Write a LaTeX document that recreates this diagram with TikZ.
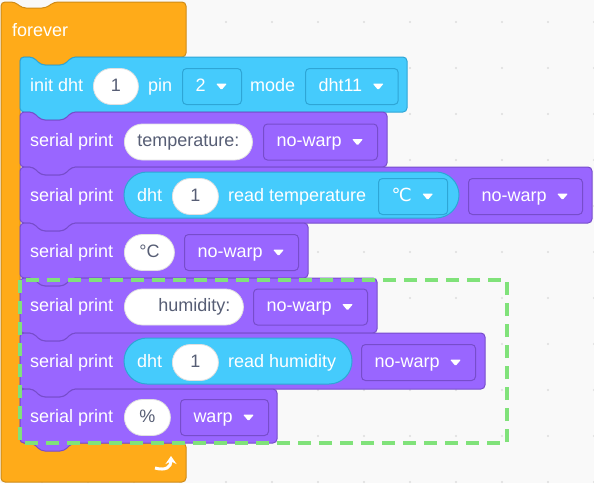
\documentclass[tikz,border=0pt]{standalone}
\usepackage{fontspec}
\setmainfont{Liberation Sans}
\newfontfamily\symfont{DejaVu Sans}
\usetikzlibrary{arrows.meta, calc}

\definecolor{forevercol}{HTML}{FFAB19}
\definecolor{foreverline}{HTML}{CF8B17}
\definecolor{dhtcol}{HTML}{45CBFC}
\definecolor{dhtline}{HTML}{2EA6D6}
\definecolor{printcol}{HTML}{9966FF}
\definecolor{printline}{HTML}{774DCB}
\definecolor{valtext}{HTML}{575E75}
\definecolor{markgreen}{HTML}{80E27A}
\definecolor{canvas}{HTML}{F9F9F9}
\definecolor{griddot}{HTML}{DDDDDD}

\newcommand{\blockfont}{\fontsize{18}{21}\selectfont}
% stack block: left, top, right, bottom, fill, line
\newcommand{\stackblock}[6]{%
  \draw[block, fill=#5, draw=#6] (#1,#2) -- ({#1+13},#2) -- ({#1+21},{#2+8}) -- ({#1+44},{#2+8}) -- ({#1+52},#2) -- (#3,#2)
    -- (#3,#4) -- ({#1+52},#4) -- ({#1+44},{#4+8}) -- ({#1+21},{#4+8}) -- ({#1+13},#4) -- (#1,#4) -- cycle;}
% small arrow of a dropdown
\newcommand{\ddarrow}[1]{%
  \fill[white, rounded corners=1pt] ($(#1.east)+(-26,-3)$) -- ++(11,0) -- ++(-5.5,6.5) -- cycle;}

\begin{document}
\begin{tikzpicture}[
    x=1pt, y=-1pt,
    block/.style={line width=1pt, rounded corners=4pt},
    reporter/.style={fill=dhtcol, draw=dhtline, line width=1pt, rounded corners=23pt},
    lbl/.style={font=\blockfont, text=white, anchor=west, inner sep=0pt, text height=13pt, text depth=4pt},
    oval/.style={lbl, fill=white, draw=black!12, line width=0.8pt, text=valtext, rounded corners=18pt, minimum height=36pt, minimum width=45pt, inner xsep=13pt},
    dd/.style={lbl, fill=printcol, draw=printline, line width=1pt, rounded corners=4pt, minimum height=36pt},
    ddcyan/.style={dd, fill=dhtcol, draw=dhtline},
    dashmark/.style={draw=markgreen, line width=3.5pt, dash pattern=on 13pt off 8pt}
]
\newcommand{\ddtext}[1]{\hspace*{13pt}#1\hspace*{36pt}}

% Canvas
\useasboundingbox (0,0) rectangle (594,483);
\fill[canvas] (0,0) rectangle (594,483);
\foreach \gx in {42,88,...,594}
  \foreach \gy in {22,68,...,482}
    \fill[griddot] (\gx,\gy) circle (1.2pt);

% Forever
\draw[block, fill=forevercol, draw=foreverline] (1,2) -- (15,2) -- (22,8) -- (46,8) -- (54,2) -- (186,2) -- (186,57)
  -- (72,57) -- (64,65) -- (41,65) -- (33,57) -- (20,57) -- (20,443) -- (186,443) -- (186,482) -- (1,482) -- cycle;
\node[lbl] (forevertxt) at (12,32) {forever};
\draw[white, line width=3pt, -{Stealth[length=8pt, width=11pt]}] (155,468) .. controls (166,471) and (171,467) .. (171,456);

% Init dht
\stackblock{20}{57}{407}{112}{dhtcol}{dhtline}
\node[lbl] (inittxt) at (30,86.5) {init dht};
\node[oval] (initnum) at (93,86.5) {1};
\node[lbl] (pintxt) at (148,86.5) {pin};
\node[ddcyan] (pindd) at (182,86.5) {\ddtext{2}};
\node[lbl] (modetxt) at (250,86.5) {mode};
\node[ddcyan] (modedd) at (305,86.5) {\ddtext{dht11}};
\ddarrow{pindd}
\ddarrow{modedd}

% Serial print temperature:
\stackblock{20}{112}{387}{167}{printcol}{printline}
\node[lbl] (printa) at (30,142) {serial print};
\node[oval] (tempstr) at (124,142) {temperature:};
\node[dd] (ddA) at (263,142) {\ddtext{no-warp}};
\ddarrow{ddA}

% Serial print dht read temperature
\stackblock{20}{167}{592}{223}{printcol}{printline}
\node[lbl] (printb) at (30,196.5) {serial print};
\draw[reporter] (124,172) rectangle (459,218);
\node[lbl] (dhta) at (137,196.5) {dht};
\node[oval, minimum width=46pt] (dhtnuma) at (172,196.5) {1};
\node[lbl] (readtemp) at (228,196.5) {read temperature};
\node[ddcyan] (unitdd) at (378,196.5) {\ddtext{\symfont ℃}};
\node[dd] (ddB) at (468,196.5) {\ddtext{no-warp}};
\ddarrow{unitdd}
\ddarrow{ddB}

% Serial print °C
\stackblock{20}{223}{308}{278}{printcol}{printline}
\node[lbl] (printc) at (30,252.5) {serial print};
\node[oval, minimum width=50pt] (degstr) at (124,252.5) {°C};
\node[dd] (ddC) at (184,252.5) {\ddtext{no-warp}};
\ddarrow{ddC}

% Serial print humidity:
\stackblock{20}{278}{377}{333}{printcol}{printline}
\node[lbl] (printd) at (30,307) {serial print};
\node[oval] (humstr) at (124,307) {\hspace*{21pt}humidity:};
\node[dd] (ddD) at (253,307) {\ddtext{no-warp}};
\ddarrow{ddD}

% Serial print dht read humidity
\stackblock{20}{333}{485}{389}{printcol}{printline}
\node[lbl] (printe) at (30,362.5) {serial print};
\draw[reporter] (124,338) rectangle (352,384);
\node[lbl] (dhtb) at (137,362.5) {dht};
\node[oval, minimum width=46pt] (dhtnumb) at (172,362.5) {1};
\node[lbl] (readhum) at (228,362.5) {read humidity};
\node[dd] (ddE) at (361,362.5) {\ddtext{no-warp}};
\ddarrow{ddE}

% Serial print %
\stackblock{20}{389}{277}{443}{printcol}{printline}
\node[lbl] (printf) at (30,417.5) {serial print};
\node[oval, minimum width=46pt] (pctstr) at (124,417.5) {\%};
\node[dd] (ddF) at (180,417.5) {\ddtext{warp}};
\ddarrow{ddF}

% Marked group
\draw[dashmark] (20,280) rectangle (507,443);

\end{tikzpicture}
\end{document}
